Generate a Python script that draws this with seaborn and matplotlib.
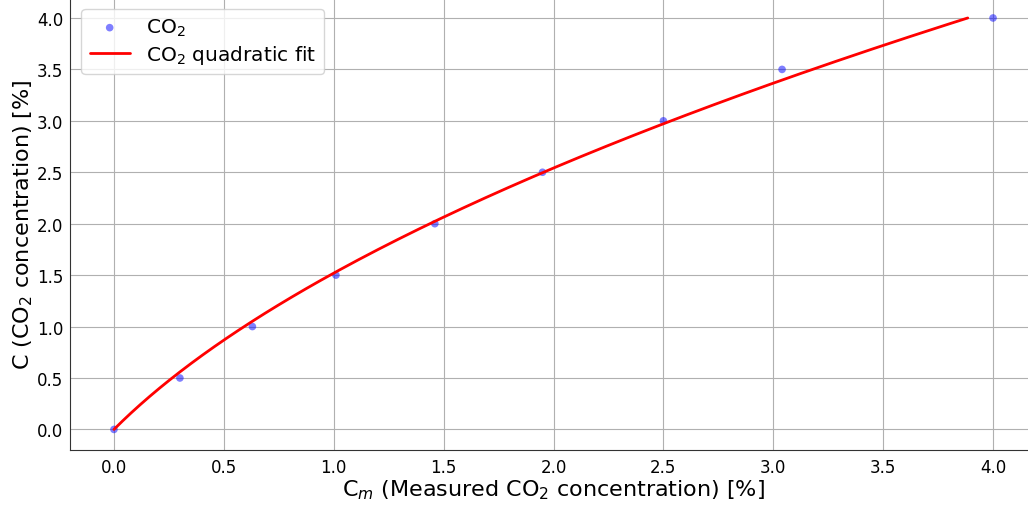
import numpy as np
import pandas as pd
import matplotlib
matplotlib.use("Agg")
import matplotlib.pyplot as plt
import seaborn as sns

measured = [0.0, 0.30, 0.63, 1.01, 1.46, 1.95, 2.50, 3.04, 4.0]
actual = [0.0, 0.5, 1.0, 1.5, 2.0, 2.5, 3.0, 3.5, 4.0]

sns.set_style("whitegrid")
plt.rcParams['font.family'] = ['DejaVu Sans']
plt.rcParams.update({"text.color": "black", "axes.labelcolor": "black",
                     "xtick.color": "black", "ytick.color": "black"})

fig = plt.figure(figsize=(10.28, 5.06), dpi=100)
ax = fig.add_axes([70/1028, 55/506, (1037-70)/1028, (451+1.6)/506])

df = pd.DataFrame({"Cm": measured, "C": actual})
sns.scatterplot(data=df, x="Cm", y="C", ax=ax, color="blue", alpha=0.5, s=30,
                edgecolor="none", label="CO$_2$")

# quadratic fit through the origin: Cm = p*C^2 + q*C
ya = np.array(actual)
A = np.column_stack([ya**2, ya])
p, q = np.linalg.lstsq(A, np.array(measured), rcond=None)[0]
yf = np.linspace(0, 4, 200)
xf = p * yf**2 + q * yf
fit = pd.DataFrame({"x": xf, "y": yf})
sns.lineplot(data=fit, x="x", y="y", ax=ax, color="red", lw=2, sort=False,
             label="CO$_2$ quadratic fit")

ax.set_xlim(-0.2, 4.2)
ax.set_ylim(-0.2, 4.2)
ax.set_xticks(np.arange(0, 4.01, 0.5))
ax.set_yticks(np.arange(0, 4.01, 0.5))
ax.set_xlabel("C$_m$ (Measured CO$_2$ concentration) [%]", fontsize=16, labelpad=1)
ax.set_ylabel("C (CO$_2$ concentration) [%]", fontsize=16, labelpad=1)
ax.tick_params(axis="x", labelsize=12, length=0, pad=6)
ax.tick_params(axis="y", labelsize=12, length=0, pad=5)
for s in ["top", "right"]:
    ax.spines[s].set_visible(False)
for s in ["left", "bottom"]:
    ax.spines[s].set_color("#333333")
ax.grid(True, color="#b0b0b0", lw=0.8)
ax.legend(loc="upper left", fontsize=14.5, frameon=True, labelspacing=0.25,
          borderaxespad=0.57)

fig.savefig("out.png", dpi=100)
